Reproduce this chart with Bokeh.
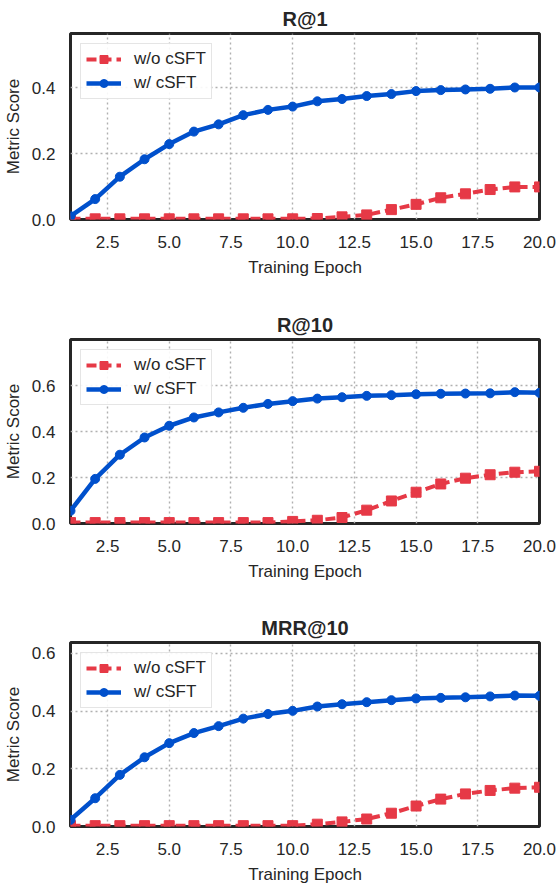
from bokeh.plotting import figure
from bokeh.layouts import column
from bokeh.models import FixedTicker, NumeralTickFormatter, Range1d
from bokeh.embed import file_html
from bokeh.resources import INLINE

epochs = list(range(1, 21))

titles = ["R@1", "R@10", "MRR@10"]

r1_wo = [0.002, 0.002, 0.002, 0.002, 0.002, 0.002, 0.002, 0.002, 0.002, 0.002,
         0.003, 0.008, 0.014, 0.030, 0.046, 0.066, 0.078, 0.091, 0.099, 0.099]
r1_w = [0.010, 0.062, 0.130, 0.183, 0.229, 0.267, 0.289, 0.317, 0.333, 0.343,
        0.359, 0.366, 0.375, 0.381, 0.390, 0.393, 0.395, 0.397, 0.401, 0.401]

r10_wo = [0.004, 0.004, 0.004, 0.004, 0.004, 0.004, 0.004, 0.004, 0.004, 0.009,
          0.014, 0.026, 0.058, 0.098, 0.136, 0.172, 0.197, 0.212, 0.223, 0.227]
r10_w = [0.055, 0.194, 0.299, 0.374, 0.425, 0.461, 0.483, 0.503, 0.520, 0.532,
         0.543, 0.549, 0.555, 0.558, 0.562, 0.564, 0.565, 0.566, 0.571, 0.568]

mrr_wo = [0.003, 0.003, 0.003, 0.003, 0.003, 0.003, 0.003, 0.003, 0.003, 0.003,
          0.008, 0.016, 0.026, 0.046, 0.071, 0.095, 0.113, 0.125, 0.133, 0.136]
mrr_w = [0.023, 0.098, 0.179, 0.240, 0.289, 0.324, 0.348, 0.374, 0.390, 0.401,
         0.416, 0.424, 0.431, 0.438, 0.444, 0.446, 0.448, 0.451, 0.454, 0.453]

y_max = [0.565, 0.80, 0.638]
y_ticks = [[0.0, 0.2, 0.4], [0.0, 0.2, 0.4, 0.6], [0.0, 0.2, 0.4, 0.6]]
x_ticks = [2.5, 5.0, 7.5, 10.0, 12.5, 15.0, 17.5, 20.0]

series_wo = [r1_wo, r10_wo, mrr_wo]
series_w = [r1_w, r10_w, mrr_w]

RED = "#E63946"
BLUE = "#0050CC"
TXT = "#262626"
FONT = "Liberation Sans"

# layout: (height, min_border_top, min_border_bottom)
layout = [(300, 33, 81), (300, 39, 77), (286, 42, 59)]

figs = []
for i in range(3):
    H, T, B = layout[i]
    p = figure(width=556, height=H, output_backend="svg", toolbar_location=None,
               x_range=Range1d(1, 20), y_range=Range1d(0, y_max[i]),
               min_border_left=69, min_border_right=17,
               min_border_top=T, min_border_bottom=B,
               background_fill_color="white", border_fill_color="white")
    p.title.text = titles[i]
    p.title.align = "center"
    p.title.text_font = FONT
    p.title.text_font_size = "20px"
    p.title.text_font_style = "bold"
    p.title.text_color = TXT
    p.title.standoff = 8

    p.outline_line_color = TXT
    p.outline_line_width = 3
    p.outline_line_alpha = 1

    for ax in (p.xaxis[0], p.yaxis[0]):
        ax.axis_line_color = None
        ax.major_tick_line_color = None
        ax.minor_tick_line_color = None
        ax.major_label_text_font = FONT
        ax.major_label_text_font_size = "17px"
        ax.major_label_text_color = TXT
        ax.axis_label_text_font = FONT
        ax.axis_label_text_font_size = "17px"
        ax.axis_label_text_font_style = "normal"
        ax.axis_label_text_color = TXT
        ax.formatter = NumeralTickFormatter(format="0.0")

    p.xaxis.ticker = FixedTicker(ticks=x_ticks)
    p.yaxis.ticker = FixedTicker(ticks=y_ticks[i])
    p.xaxis.axis_label = "Training Epoch"
    p.yaxis.axis_label = "Metric Score"
    p.xaxis.major_label_standoff = 10
    p.xaxis.axis_label_standoff = 7
    p.yaxis.major_label_standoff = 9
    p.yaxis.axis_label_standoff = 6

    p.grid.grid_line_color = "#b0b0b0"
    p.grid.grid_line_width = 1.4
    p.grid.grid_line_dash = "2 3"

    p.line(epochs, series_wo[i], line_color=RED, line_width=4, line_dash="10 5",
           legend_label="w/o cSFT")
    p.scatter(epochs, series_wo[i], marker="square", size=10, fill_color=RED,
              line_color=RED, legend_label="w/o cSFT")
    p.line(epochs, series_w[i], line_color=BLUE, line_width=4.5, legend_label="w/ cSFT")
    p.scatter(epochs, series_w[i], marker="circle", size=9, fill_color=BLUE,
              line_color=BLUE, legend_label="w/ cSFT")

    lg = p.legend[0]
    lg.location = "top_left"
    lg.margin = 10
    lg.padding = 5
    lg.spacing = 4
    lg.glyph_width = 35
    lg.glyph_height = 20
    lg.label_height = 20
    lg.label_standoff = 13
    lg.label_text_font = FONT
    lg.label_text_font_size = "17px"
    lg.label_text_color = TXT
    lg.border_line_color = "#cccccc"
    lg.border_line_width = 1
    lg.background_fill_color = "white"
    lg.background_fill_alpha = 0.9

    figs.append(p)

layout_col = column(*figs, spacing=0)
open("out.html", "w").write(file_html(layout_col, INLINE))
